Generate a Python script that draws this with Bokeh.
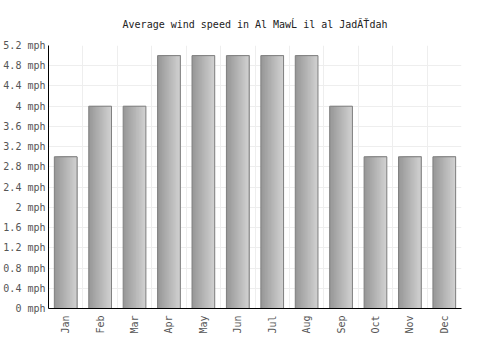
from bokeh.plotting import figure
from bokeh.models import ColumnDataSource, FixedTicker, Grid, FactorRange, Range1d
from bokeh.transform import dodge
from bokeh.embed import file_html
from bokeh.resources import INLINE
import math

title = "Average wind speed in Al MawĹ il al JadĂŤdah"
months = ["Jan", "Feb", "Mar", "Apr", "May", "Jun", "Jul", "Aug", "Sep", "Oct", "Nov", "Dec"]
wind_mph = [3.0, 4.0, 4.0, 5.0, 5.0, 5.0, 5.0, 5.0, 4.0, 3.0, 3.0, 3.0]
y_ticks = [0, 0.4, 0.8, 1.2, 1.6, 2, 2.4, 2.8, 3.2, 3.6, 4, 4.4, 4.8, 5.2]
y_tick_labels = ["0 mph", "0.4 mph", "0.8 mph", "1.2 mph", "1.6 mph", "2 mph", "2.4 mph",
                 "2.8 mph", "3.2 mph", "3.6 mph", "4 mph", "4.4 mph", "4.8 mph", "5.2 mph"]

FONT = "DejaVu Sans Mono"
source = ColumnDataSource(data=dict(month=months, value=wind_mph))

p = figure(x_range=FactorRange(*months, range_padding=0), y_range=Range1d(0, y_ticks[-1]),
           width=500, height=350, frame_width=413, frame_height=263,
           output_backend="svg", toolbar_location=None,
           min_border_top=45, min_border_bottom=42, min_border_right=39, min_border_left=0)
p.outline_line_color = None
p.background_fill_color = "white"

p.title.text = title
p.title.align = "center"
p.title.text_font = FONT
p.title.text_font_size = "10px"
p.title.text_font_style = "normal"
p.title.text_color = "#222222"
p.title.standoff = 31

# grids
p.xgrid.visible = False
p.ygrid.ticker = FixedTicker(ticks=y_ticks)
p.ygrid.grid_line_color = "#eeeeee"
vgrid = Grid(dimension=0, ticker=FixedTicker(ticks=list(range(len(months) + 1))),
             grid_line_color="#eeeeee")
p.add_layout(vgrid)

# bars with horizontal gradient (overlapping layers, each from its left edge to the bar's right edge)
bar_w = 0.66
n_strips = 16
for k in range(n_strips):
    t = k / (n_strips - 1)
    g = int(round(0x98 + t * (0xd0 - 0x98)))
    col = "#%02x%02x%02x" % (g, g, g)
    left = -bar_w / 2 + k * bar_w / n_strips
    right = bar_w / 2
    p.vbar(x=dodge("month", (left + right) / 2, range=p.x_range), top="value",
           width=right - left, bottom=0, fill_color=col, line_color=None, source=source)
p.vbar(x="month", top="value", width=bar_w, bottom=0, fill_color=None,
       line_color="#7f7f7f", line_width=1, source=source)

# axes
for ax in (p.xaxis[0], p.yaxis[0]):
    ax.axis_line_color = "black"
    ax.axis_line_width = 1
    ax.major_tick_out = 0
    ax.major_tick_in = 0
    ax.minor_tick_out = 0
    ax.minor_tick_in = 0
    ax.major_label_text_font = FONT
    ax.major_label_text_font_size = "10px"
    ax.major_label_text_color = "#555555"

p.yaxis.ticker = FixedTicker(ticks=y_ticks)
p.yaxis.major_label_overrides = {t: l for t, l in zip(y_ticks, y_tick_labels)}
p.yaxis.major_label_standoff = 3
p.xaxis.major_label_orientation = math.pi / 2
p.xaxis.major_label_standoff = 7

open("out.html", "w").write(file_html(p, INLINE))
